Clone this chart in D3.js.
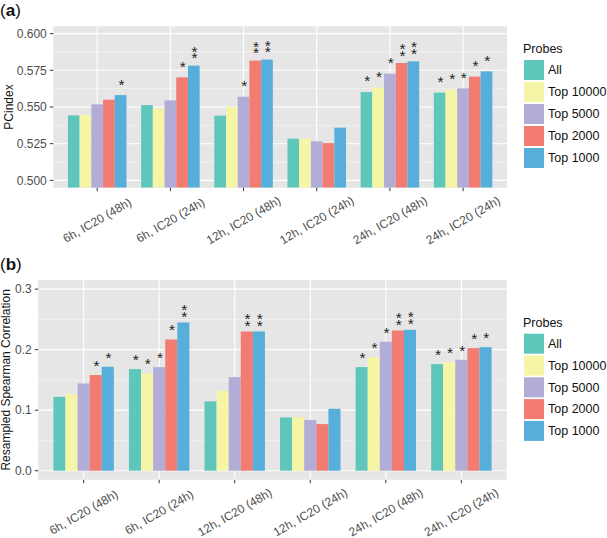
<!DOCTYPE html>
<html><head><meta charset="utf-8">
<script src="https://cdn.jsdelivr.net/npm/d3@7"></script>
<style>body{margin:0;background:#fff}svg{display:block;font-family:"Liberation Sans",Arial,Helvetica,sans-serif}</style>
</head><body><svg id="c" width="607" height="538"></svg>
<script>
const categories = ["6h, IC20 (48h)", "6h, IC20 (24h)", "12h, IC20 (48h)", "12h, IC20 (24h)", "24h, IC20 (48h)", "24h, IC20 (24h)"];
const probes = ["All", "Top 10000", "Top 5000", "Top 2000", "Top 1000"];
const colors = ["#5ec6bb", "#f6f5a6", "#b2add6", "#f27b72", "#56afda"];

// Panel (a) PCindex
const pcAll   = [0.5443, 0.5513, 0.5441, 0.5284, 0.5602, 0.5598];
const pcT10000= [0.5445, 0.5489, 0.5500, 0.5285, 0.5632, 0.5618];
const pcT5000 = [0.5518, 0.5545, 0.5570, 0.5266, 0.5727, 0.5627];
const pcT2000 = [0.5550, 0.5702, 0.5816, 0.5254, 0.5800, 0.5707];
const pcT1000 = [0.5581, 0.5782, 0.5823, 0.5359, 0.5811, 0.5743];
const pcStars = [[0,0,0,0,1,1],[0,0,0,0,1,1],[0,0,1,0,1,1],[0,1,2,0,2,1],[1,2,2,0,2,1]];
const pcTicks = [0.500, 0.525, 0.550, 0.575, 0.600];

// Panel (b) Resampled Spearman Correlation
const spAll   = [0.1220, 0.1678, 0.1145, 0.0880, 0.1711, 0.1760];
const spT10000= [0.1266, 0.1607, 0.1320, 0.0887, 0.1870, 0.1788];
const spT5000 = [0.1442, 0.1711, 0.1546, 0.0837, 0.2130, 0.1832];
const spT2000 = [0.1580, 0.2168, 0.2300, 0.0770, 0.2316, 0.2025];
const spT1000 = [0.1717, 0.2449, 0.2300, 0.1023, 0.2327, 0.2041];
const spStars = [[0,1,0,0,1,1],[0,1,0,0,1,1],[0,1,0,0,1,1],[1,1,2,0,2,1],[1,2,2,0,2,1]];
const spTicks = [0.0, 0.1, 0.2, 0.3];

const svg = d3.select("#c");

function panel(cfg){
  const g = svg.append("g");
  const x = d3.scaleBand().domain(categories).range([cfg.left, cfg.right]).paddingInner(0.2).paddingOuter(0.2);
  const xi = d3.scaleBand().domain(probes).range([0, x.bandwidth()]);
  const y = d3.scaleLinear().domain(cfg.domain).range([cfg.bottom, cfg.top]);
  g.append("rect").attr("x", cfg.left).attr("y", cfg.top).attr("width", cfg.right-cfg.left).attr("height", cfg.bottom-cfg.top).attr("fill", "#e6e6e6");
  cfg.minor.forEach(v => g.append("line").attr("x1", cfg.left).attr("x2", cfg.right).attr("y1", y(v)).attr("y2", y(v)).attr("stroke", "#f6f6f6").attr("stroke-width", 0.6));
  cfg.ticks.forEach(v => g.append("line").attr("x1", cfg.left).attr("x2", cfg.right).attr("y1", y(v)).attr("y2", y(v)).attr("stroke", "#fff").attr("stroke-width", 1.1));
  categories.forEach(c => { const cx = x(c) + x.bandwidth()/2; g.append("line").attr("x1", cx).attr("x2", cx).attr("y1", cfg.top).attr("y2", cfg.bottom).attr("stroke", "#fff").attr("stroke-width", 1.1); });
  const cid = "clip" + cfg.id;
  svg.append("clipPath").attr("id", cid).append("rect").attr("x", cfg.left).attr("y", cfg.top).attr("width", cfg.right-cfg.left).attr("height", cfg.bottom-cfg.top);
  const bars = g.append("g").attr("clip-path", `url(#${cid})`);
  cfg.series.forEach((vals, si) => {
    vals.forEach((v, ci) => {
      const bx = x(categories[ci]) + xi(probes[si]);
      const base = Math.max(cfg.domain[0], cfg.base);
      bars.append("rect").attr("x", bx).attr("width", xi.bandwidth()).attr("y", y(v)).attr("height", y(base) - y(v)).attr("fill", colors[si]);
      const n = cfg.stars[si][ci];
      if (n > 0) {
        const cxs = bx + xi.bandwidth()/2 + 0.8;
        const cy = y(v) - cfg.starOff;
        const t = g.append("text").attr("text-anchor", "middle").attr("font-size", 15.5).attr("fill", "#222");
        if (n === 1) {
          t.append("tspan").attr("x", cxs).attr("y", cy + 8.4).text("*");
        } else {
          t.append("tspan").attr("x", cxs).attr("y", cy - 3.4 + 8.4).text("*");
          t.append("tspan").attr("x", cxs).attr("y", cy + 3.4 + 8.4).text("*");
        }
      }
    });
  });
  cfg.ticks.forEach(v => {
    g.append("line").attr("x1", cfg.left-3.5).attr("x2", cfg.left).attr("y1", y(v)).attr("y2", y(v)).attr("stroke", "#333").attr("stroke-width", 1);
    g.append("text").attr("x", cfg.left-6.5).attr("y", y(v)).attr("dy", "0.35em").attr("text-anchor", "end").attr("font-size", 12).attr("fill", "#4d4d4d").text(cfg.fmt(v));
  });
  categories.forEach(c => {
    const cx = x(c) + x.bandwidth()/2;
    g.append("line").attr("x1", cx).attr("x2", cx).attr("y1", cfg.bottom).attr("y2", cfg.bottom+3.5).attr("stroke", "#333").attr("stroke-width", 1);
    g.append("text").attr("transform", `translate(${cx},${cfg.bottom+32.5}) rotate(-30)`).attr("text-anchor", "middle").attr("dy", "0.35em").attr("font-size", 12).attr("fill", "#4d4d4d").text(c);
  });
  g.append("text").attr("transform", `translate(${cfg.titleX},${(cfg.top+cfg.bottom)/2}) rotate(-90)`).attr("text-anchor", "middle").attr("dy", "0.35em").attr("font-size", 12).attr("fill", "#111").text(cfg.title);
  const lab = g.append("text").attr("x", 0).attr("y", cfg.labelY).attr("font-size", 17).attr("fill", "#111");
  lab.append("tspan").text("(");
  lab.append("tspan").attr("font-weight", "bold").text(cfg.id);
  lab.append("tspan").text(")");
  g.append("text").attr("x", 523).attr("y", cfg.legTop).attr("dy", "0.35em").attr("font-size", 12.5).attr("fill", "#111").text("Probes");
  probes.forEach((p, i) => {
    const ky = cfg.legTop + 11 + i*cfg.legStep;
    g.append("rect").attr("x", 524).attr("y", ky).attr("width", 20).attr("height", 20).attr("fill", colors[i]);
    g.append("text").attr("x", 548).attr("y", ky+10).attr("dy", "0.35em").attr("font-size", 12.5).attr("fill", "#111").text(p);
  });
}

panel({id:"a", left:53.3, right:507, top:26.3, bottom:187.7, domain:[0.495, 0.605], base:0.495,
  ticks:pcTicks, minor:[0.5125,0.5375,0.5625,0.5875], fmt:d3.format(".3f"),
  series:[pcAll,pcT10000,pcT5000,pcT2000,pcT1000], stars:pcStars, starOff:14,
  title:"PCindex", titleX:8.5, labelY:16, legTop:49, legStep:22});

panel({id:"b", left:38.3, right:506.7, top:280, bottom:479.8, domain:[-0.015, 0.315], base:0,
  ticks:spTicks, minor:[0.05,0.15,0.25], fmt:d3.format(".1f"),
  series:[spAll,spT10000,spT5000,spT2000,spT1000], stars:spStars, starOff:12.5,
  title:"Resampled Spearman Correlation", titleX:6, labelY:270, legTop:322.7, legStep:21.8});
</script></body></html>
